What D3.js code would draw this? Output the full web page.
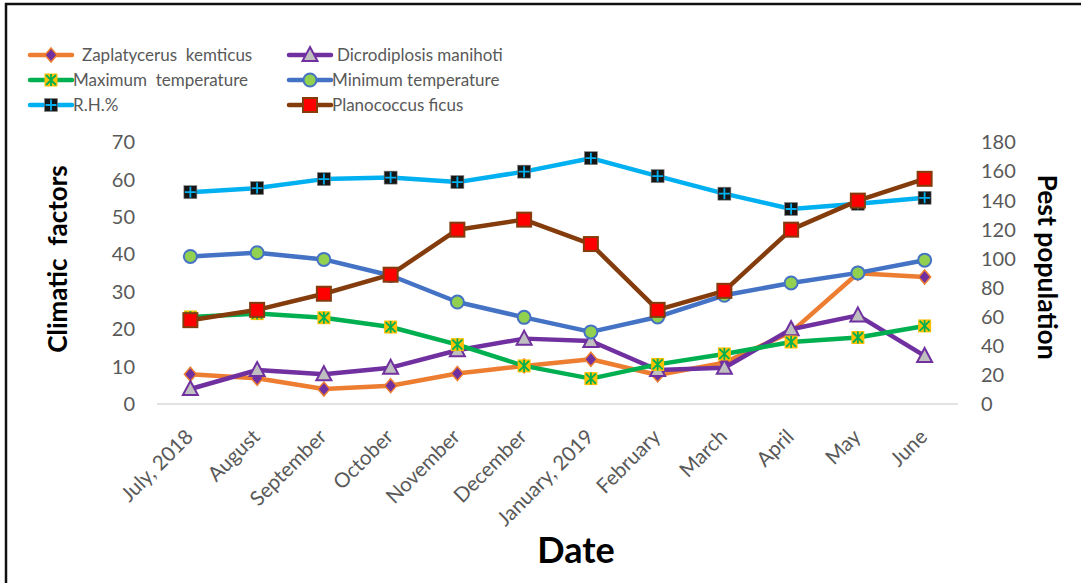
<!DOCTYPE html>
<html><head><meta charset="utf-8">
<script src="https://cdn.jsdelivr.net/npm/d3@7"></script>
<style>body{margin:0;background:#fff}svg{display:block}text{white-space:pre}</style>
</head><body>
<svg id="c" width="1081" height="583"></svg>
<script>
const months = ["July, 2018","August","September","October","November","December","January, 2019","February","March","April","May","June"];
const leftTicks = [0,10,20,30,40,50,60,70];
const rightTicks = [0,20,40,60,80,100,120,140,160,180];

// Pest population (right axis)
const zaplatycerus = [20.5,17.7,10.3,12.6,21,26.2,30.8,20,28.5,49.5,90,87.4];
const dicrodiplosis = [10.3,23.4,20.5,25,37,45,43.4,23.4,25,51.5,61,33.1];
const planococcus = [57.7,64.8,75.9,89,120,126.9,110.1,64.8,77.9,120,140,155];
// Climatic factors (left axis)
const maxTemp = [23.3,24.2,23.1,20.6,15.9,10.2,6.8,10.6,13.4,16.6,17.8,20.9];
const minTemp = [39.5,40.5,38.7,34.4,27.3,23.2,19.3,23.3,29.1,32.4,35.1,38.5];
const rh = [56.7,57.8,60.2,60.6,59.4,62.2,65.8,61.0,56.3,52.2,53.6,55.2];

const svg = d3.select("#c");
const font = "Lato, 'Open Sans', sans-serif";
const grey = "#595959";

// border
svg.append("line").attr("x1",5).attr("x2",1081).attr("y1",4).attr("y2",4).attr("stroke","#111").attr("stroke-width",2.5);
svg.append("line").attr("x1",6).attr("x2",6).attr("y1",3).attr("y2",583).attr("stroke","#111").attr("stroke-width",2.5);

const x = d3.scaleBand().domain(months).range([157,958]);
const cx = m => x(m) + x.bandwidth()/2;
const yL = d3.scaleLinear().domain([0,70]).range([404,142.5]);
const yR = d3.scaleLinear().domain([0,180]).range([404,142.5]);

// baseline
svg.append("line").attr("x1",157).attr("x2",958).attr("y1",yL(0)).attr("y2",yL(0)).attr("stroke","#d9d9d9").attr("stroke-width",1.5);

// left ticks
const gl = svg.append("g").attr("transform","translate(141,0)").call(d3.axisLeft(yL).tickValues(leftTicks).tickSize(0).tickPadding(6));
gl.select(".domain").remove();
gl.selectAll("text").attr("font-family",font).attr("font-size",20).attr("fill",grey);
// right ticks
const gr = svg.append("g").attr("transform","translate(975,0)").call(d3.axisRight(yR).tickValues(rightTicks).tickSize(0).tickPadding(6));
gr.select(".domain").remove();
gr.selectAll("text").attr("font-family",font).attr("font-size",20).attr("fill",grey);

// x labels
const gx = svg.append("g").attr("transform","translate(0,404)").call(d3.axisBottom(x).tickSize(0).tickPadding(0));
gx.select(".domain").remove();
gx.selectAll("text").attr("font-family",font).attr("font-size",20.5).attr("fill",grey)
  .attr("text-anchor","end").attr("dy",0).attr("y",0)
  .attr("transform","translate(4,34) rotate(-45)");

// axis titles
svg.append("text").attr("transform","translate(67,259) rotate(-90)").attr("text-anchor","middle")
  .attr("font-family",font).attr("font-weight","bold").attr("font-size",26).attr("fill","#000").text("Climatic  factors");
svg.append("text").attr("transform","translate(1038,267) rotate(90)").attr("text-anchor","middle")
  .attr("font-family",font).attr("font-weight","bold").attr("font-size",26.5).attr("fill","#000").text("Pest population");
svg.append("text").attr("x",576).attr("y",563).attr("text-anchor","middle")
  .attr("font-family",font).attr("font-weight","bold").attr("font-size",36).attr("fill","#000").text("Date");

// marker drawers
function marker(g, type, px, py) {
  if (type==="diamond") {
    g.append("path").attr("d","M0,-7L6,0L0,7L-6,0Z").attr("transform",`translate(${px},${py})`)
      .attr("fill","#7030A0").attr("stroke","#ED7D31").attr("stroke-width",1.5);
  } else if (type==="triangle") {
    g.append("path").attr("d",`M0,-8L7.5,6L-7.5,6Z`).attr("transform",`translate(${px},${py})`)
      .attr("fill","#BFBFBF").attr("stroke","#7030A0").attr("stroke-width",2);
  } else if (type==="star") {
    g.append("rect").attr("x",px-6.5).attr("y",py-6.5).attr("width",13).attr("height",13).attr("fill","#FFC000");
    g.append("path").attr("d",`M${px-5},${py-5}L${px+5},${py+5}M${px+5},${py-5}L${px-5},${py+5}M${px},${py-6}L${px},${py+6}`)
      .attr("stroke","#00B050").attr("stroke-width",1.8);
  } else if (type==="circle") {
    g.append("circle").attr("cx",px).attr("cy",py).attr("r",6.5).attr("fill","#92D050").attr("stroke","#4472C4").attr("stroke-width",2);
  } else if (type==="plus") {
    g.append("rect").attr("x",px-6.5).attr("y",py-6.5).attr("width",13).attr("height",13).attr("fill","#161616").attr("stroke","#888").attr("stroke-width",0.6);
    g.append("path").attr("d",`M${px-5.5},${py}L${px+5.5},${py}M${px},${py-5.5}L${px},${py+5.5}`)
      .attr("stroke","#00B0F0").attr("stroke-width",1.8);
  } else if (type==="square") {
    g.append("rect").attr("x",px-7).attr("y",py-7).attr("width",14).attr("height",14).attr("fill","#FF0000").attr("stroke","#843C0C").attr("stroke-width",2);
  }
}

const series = [
  {name:"Zaplatycerus  kemticus", vals:zaplatycerus, y:yR, color:"#ED7D31", m:"diamond"},
  {name:"Dicrodiplosis manihoti", vals:dicrodiplosis, y:yR, color:"#7030A0", m:"triangle"},
  {name:"Maximum  temperature", vals:maxTemp, y:yL, color:"#00B050", m:"star"},
  {name:"Minimum temperature", vals:minTemp, y:yL, color:"#4472C4", m:"circle"},
  {name:"R.H.%", vals:rh, y:yL, color:"#00B0F0", m:"plus"},
  {name:"Planococcus ficus", vals:planococcus, y:yR, color:"#843C0C", m:"square"}
];

series.forEach(s => {
  const g = svg.append("g");
  const line = d3.line().x((d,i)=>cx(months[i])).y(d=>s.y(d));
  g.append("path").datum(s.vals).attr("d",line).attr("fill","none").attr("stroke",s.color).attr("stroke-width",4.5).attr("stroke-linejoin","round");
  s.vals.forEach((v,i)=>marker(g, s.m, cx(months[i]), s.y(v)));
});

// legend
const legPos = [[30,55],[289,55],[30,80],[289,80],[30,105],[289,105]];
const textX = [82,337,73,332,73,332];
series.forEach((s,i) => {
  const [lx,ly] = legPos[i];
  const g = svg.append("g");
  g.append("line").attr("x1",lx).attr("x2",lx+42).attr("y1",ly).attr("y2",ly).attr("stroke",s.color).attr("stroke-width",4.5).attr("stroke-linecap","round");
  marker(g, s.m, lx+21, ly);
  g.append("text").attr("x",textX[i]).attr("y",ly).attr("dy","0.35em").attr("font-family",font).attr("font-size",17).attr("fill",grey).text(s.name);
});
</script>
</body></html>
